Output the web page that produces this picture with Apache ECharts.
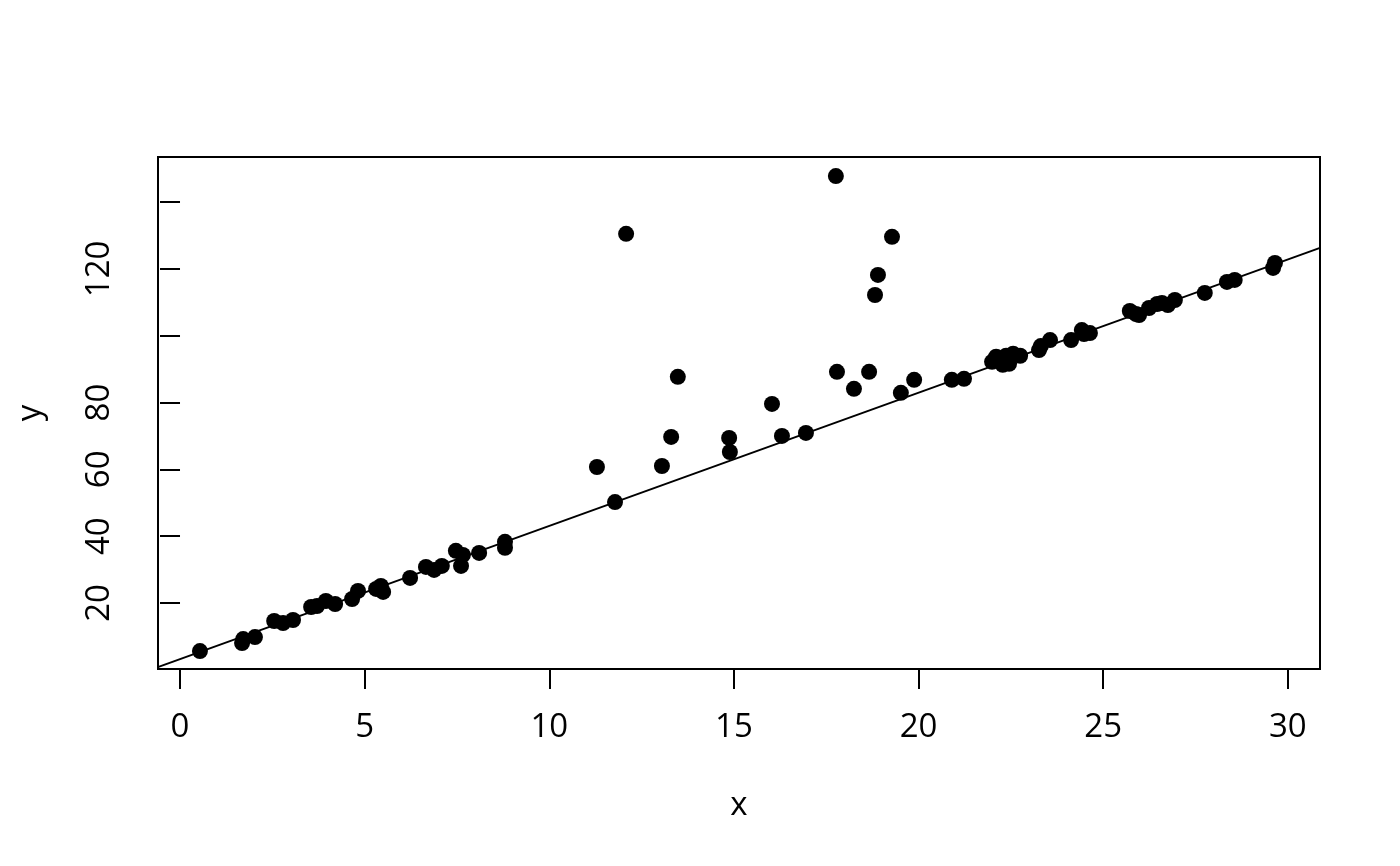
<!DOCTYPE html>
<html>
<head>
<meta charset="utf-8">
<script src="https://cdn.jsdelivr.net/npm/echarts@6/dist/echarts.min.js"></script>
<style>
html,body{margin:0;padding:0;background:#fff;}
#c{width:1400px;height:866px;}
</style>
</head>
<body>
<div id="c"></div>
<script>
// Scatter data
const xValues = [0.54,1.68,1.71,2.03,2.55,2.79,3.06,3.55,3.71,3.95,4.2,4.66,4.82,5.31,5.44,5.5,6.23,6.66,6.88,7.09,7.47,7.61,7.66,8.1,8.8,8.8,
  11.29,11.78,12.08,13.05,13.3,13.48,14.87,14.89,16.03,16.3,16.95,17.76,17.79,18.25,18.66,18.82,18.9,19.28,19.52,19.88,20.9,21.23,
  21.99,22.1,22.28,22.37,22.45,22.56,22.75,23.26,23.31,23.56,24.13,24.42,24.48,24.64,
  25.72,25.89,25.97,26.24,26.46,26.59,26.75,26.94,27.75,28.35,28.56,29.6,29.65];
const yValues = [5.6,8.0,9.2,9.8,14.6,14.0,14.9,18.8,19.1,20.6,19.7,21.2,23.6,24.2,25.1,23.3,27.5,30.8,29.9,31.1,35.6,31.1,34.4,35.0,38.3,36.5,
  60.7,50.2,130.5,61.0,69.7,87.7,69.4,65.2,79.6,70.0,70.9,147.8,89.2,84.1,89.2,112.2,118.2,129.6,82.9,86.8,86.8,87.1,
  92.2,93.7,91.3,94.0,91.6,94.6,94.0,95.7,96.9,98.7,98.7,101.7,100.5,100.8,
  107.4,106.5,106.2,108.3,109.5,109.8,109.2,110.7,112.8,116.1,116.7,120.3,121.8];
// Fitted line end points (at plot edges)
const lineX = [-0.6, 30.87];
const lineY = [0.8, 126.3];
// Tick values
const xTicks = [0,5,10,15,20,25,30];
const yTicks = [20,40,60,80,100,120,140];
const yLabels = [20,40,60,80,120];
const xName = 'x';
const yName = 'y';

const font = '"Open Sans", "Noto Sans", sans-serif';
const fs = 33;
const chart = echarts.init(document.getElementById('c'));
chart.setOption({
  animation: false,
  backgroundColor: '#fff',
  grid: {left: 158, top: 157, width: 1162, height: 512, show: true, borderColor: '#000', borderWidth: 2, backgroundColor: 'transparent'},
  xAxis: {
    type: 'value', min: -0.596, max: 30.87,
    name: xName, nameLocation: 'middle', nameGap: 120,
    nameTextStyle: {fontSize: fs, color: '#000', fontFamily: font},
    axisLine: {show: false},
    splitLine: {show: false},
    axisTick: {show: true, length: 20, inside: false, customValues: xTicks, lineStyle: {color: '#000', width: 2}},
    axisLabel: {show: true, customValues: xTicks, margin: 42, fontSize: fs, color: '#000', fontFamily: font}
  },
  yAxis: {
    type: 'value', min: 0.24, max: 153.5,
    name: yName, nameLocation: 'middle', nameGap: 111, nameRotate: 90,
    nameTextStyle: {fontSize: fs, color: '#000', fontFamily: font},
    axisLine: {show: false},
    splitLine: {show: false},
    axisTick: {show: true, length: 20, customValues: yTicks, lineStyle: {color: '#000', width: 2}},
    axisLabel: {show: true, customValues: yLabels, rotate: 90, margin: 42, fontSize: fs, color: '#000', fontFamily: font, align: 'center', verticalAlign: 'bottom'}
  },
  series: [
    {
      type: 'line', data: lineX.map((x, i) => [x, lineY[i]]), symbol: 'none', clip: true,
      lineStyle: {color: '#000', width: 2}, z: 2, silent: true
    },
    {
      type: 'scatter', data: xValues.map((x, i) => [x, yValues[i]]), symbol: 'circle', symbolSize: 16,
      itemStyle: {color: '#000', opacity: 1}, z: 3
    }
  ]
});
</script>
</body>
</html>
